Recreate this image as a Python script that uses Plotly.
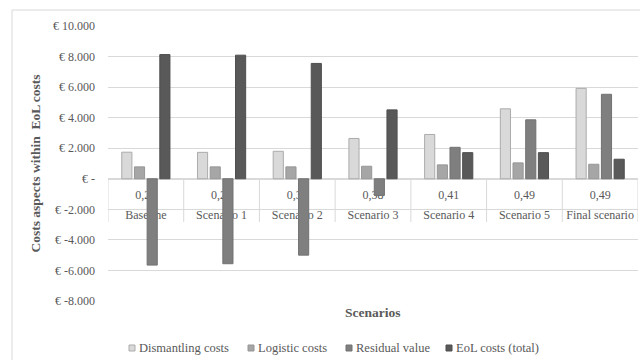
import plotly.graph_objects as go

# Scenario labels (lower row) and the ratio shown above each (upper row)
scenarios = ["Baseline", "Scenario 1", "Scenario 2", "Scenario 3",
             "Scenario 4", "Scenario 5", "Final scenario"]
ratios = ["0,20", "0,28", "0,31", "0,38", "0,41", "0,49", "0,49"]

# Cost components per scenario (EUR)
dismantling = [1740, 1730, 1800, 2640, 2900, 4580, 5920]
logistic = [780, 780, 780, 820, 910, 1040, 950]
residual = [-5650, -5560, -5000, -1090, 2060, 3860, 5530]
eol_total = [8130, 8090, 7550, 4510, 1710, 1710, 1280]

series_names = ["Dismantling costs", "Logistic costs", "Residual value", "EoL costs (total)"]
series_values = [dismantling, logistic, residual, eol_total]
fill_colors = ["#d9d9d9", "#a6a6a6", "#7f7f7f", "#595959"]
edge_colors = ["#ababab", "#969696", "#727272", "#4f4f4f"]

y_ticks = [-8000, -6000, -4000, -2000, 0, 2000, 4000, 6000, 8000, 10000]
y_ticktext = ["€ -8.000", "€ -6.000", "€ -4.000", "€ -2.000", "€ -",
              "€ 2.000", "€ 4.000", "€ 6.000", "€ 8.000", "€ 10.000"]
y_min, y_max = -8000, 10000

FONT = "Liberation Serif"
TXT = "#595959"
GRID = "#d9d9d9"

W, H = 640, 360
ML, MR, MT, MB = 108, 2, 26, 59
plot_w = W - ML - MR
plot_h = H - MT - MB


def px_x(px):
    return (px - ML) / plot_w


def px_y(py):
    return 1 - (py - MT) / plot_h


n = len(scenarios)
x_range = [-0.5, n - 0.5]
zero_pos = -y_min / (y_max - y_min)

fig = go.Figure()
for name, vals, fc, ec in zip(series_names, series_values, fill_colors, edge_colors):
    fig.add_trace(go.Bar(
        x=scenarios, y=vals, name=name,
        marker=dict(color=fc, line=dict(color=ec, width=1)),
        showlegend=False,
    ))

# invisible carrier so the lower label row has its categories
fig.add_trace(go.Scatter(x=scenarios, y=[0] * n, xaxis="x2", mode="markers",
                         marker=dict(opacity=0), showlegend=False, hoverinfo="skip"))

fig.update_layout(
    width=W, height=H,
    margin=dict(l=ML, r=MR, t=MT, b=MB),
    paper_bgcolor="white", plot_bgcolor="white",
    font=dict(family=FONT, size=12, color=TXT),
    barmode="group", bargap=0.33, bargroupgap=0.2,
    showlegend=False,
    xaxis=dict(
        type="category", range=x_range,
        anchor="free", position=zero_pos,
        layer="below traces",
        showline=True, linecolor=GRID, linewidth=1,
        showgrid=False, ticks="",
        tickvals=scenarios, ticktext=ratios, tickangle=0,
        ticklabelstandoff=5,
        tickfont=dict(family=FONT, size=12, color=TXT),
    ),
    xaxis2=dict(
        type="category", range=x_range, overlaying="x",
        anchor="free", position=zero_pos,
        layer="below traces",
        showline=False, showgrid=False, ticks="", tickangle=0,
        ticklabelstandoff=27,
        tickfont=dict(family=FONT, size=12, color=TXT),
    ),
    yaxis=dict(
        range=[y_min, y_max],
        tickvals=y_ticks, ticktext=y_ticktext,
        showgrid=True, gridcolor=GRID, gridwidth=1,
        zeroline=False, ticks="", ticklabelstandoff=12,
        tickfont=dict(family=FONT, size=12, color=TXT),
        title=dict(text="<b>Costs aspects within  EoL costs</b>",
                   font=dict(family=FONT, size=13.5, color=TXT), standoff=9),
    ),
)

# vertical dividers of the category label table
for i in range(n + 1):
    fig.add_shape(type="line", xref="x", yref="paper",
                  x0=i - 0.5, x1=i - 0.5, y0=zero_pos, y1=px_y(222),
                  line=dict(color=GRID, width=1), layer="below")

# x-axis title
fig.add_annotation(text="<b>Scenarios</b>", xref="paper", yref="paper",
                   x=0.5, y=px_y(312), xanchor="center", yanchor="middle",
                   showarrow=False,
                   font=dict(family=FONT, size=13.5, color=TXT))

# legend row: small swatch followed by the series name
legend_swatch_left = [129, 248, 346, 446]
for name, fc, ec, left in zip(series_names, fill_colors, edge_colors, legend_swatch_left):
    fig.add_shape(type="rect", xref="paper", yref="paper",
                  x0=px_x(left), x1=px_x(left + 6), y0=px_y(351), y1=px_y(345),
                  line=dict(color=ec, width=1), fillcolor=fc)
    fig.add_annotation(text=name, xref="paper", yref="paper",
                       x=px_x(left + 8), y=px_y(348), xanchor="left", yanchor="middle",
                       showarrow=False, font=dict(family=FONT, size=12.5, color=TXT))

# chart frame
fig.add_shape(type="rect", xref="paper", yref="paper",
              x0=px_x(12), y0=px_y(H + 5), x1=px_x(W + 5), y1=px_y(10),
              line=dict(color=GRID, width=1), fillcolor="rgba(0,0,0,0)", layer="below")

fig.write_html("out.html")
